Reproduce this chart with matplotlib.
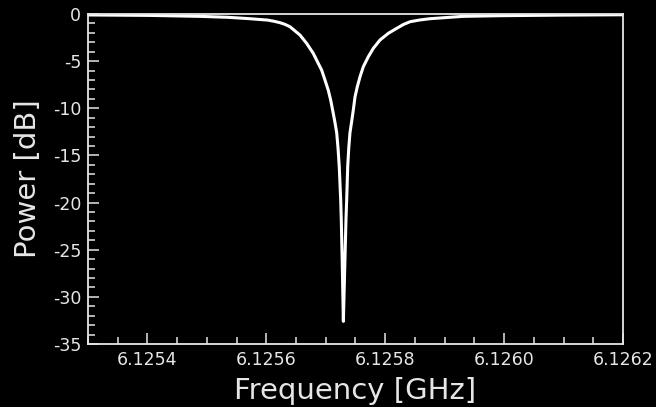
import matplotlib
matplotlib.use("Agg")
import matplotlib.pyplot as plt
from matplotlib.ticker import MultipleLocator, FormatStrFormatter

plt.rcParams['font.family'] = ['DejaVu Sans']
plt.rcParams['axes.unicode_minus'] = False

# Frequency [GHz] and power [dB]
freq_ghz = [
    6.1253000, 6.1254043, 6.1254884, 6.1255355, 6.1255725, 6.1256028,
    6.1256129, 6.1256230, 6.1256314, 6.1256398, 6.1256566, 6.1256679,
    6.1256790, 6.1256874, 6.1256931, 6.1256987, 6.1257042, 6.1257083,
    6.1257116, 6.1257152, 6.1257184, 6.1257206, 6.1257227, 6.1257251,
    6.1257261, 6.1257276, 6.1257296,
    6.1257323, 6.1257340, 6.1257352, 6.1257369, 6.1257387, 6.1257407,
    6.1257438, 6.1257463, 6.1257492, 6.1257530, 6.1257576, 6.1257631,
    6.1257715, 6.1257799, 6.1257912, 6.1258052, 6.1258193, 6.1258304,
    6.1258417, 6.1258585, 6.1258753, 6.1259308, 6.1259931, 6.1260940,
    6.1262000,
]
power_db = [
    -0.10, -0.15, -0.25, -0.35, -0.50, -0.65,
    -0.77, -0.92, -1.10, -1.35, -2.23, -3.12,
    -4.18, -5.24, -5.95, -7.01, -8.08, -9.14,
    -10.2, -11.4, -12.6, -14.2, -16.2, -19.7,
    -21.8, -26.0, -32.6,
    -26.0, -21.8, -19.7, -16.2, -14.2, -12.6,
    -11.3, -10.2, -8.79, -7.73, -6.66, -5.60,
    -4.54, -3.65, -2.76, -2.05, -1.52, -1.12,
    -0.82, -0.63, -0.50, -0.25, -0.18, -0.12,
    -0.08,
]

x_limits = (6.1253, 6.1262)
y_limits = (-35, 0)
x_major, x_minor = 0.0002, 0.00005
y_major, y_minor = 5, 1

fg = '#e6e6e6'

fig = plt.figure(figsize=(6.56, 4.07), dpi=100, facecolor='black')
ax = fig.add_axes([0.1341, 0.1548, 0.8156, 0.8108])
ax.set_facecolor('black')

ax.plot(freq_ghz, power_db, color='white', lw=2.2,
        solid_joinstyle='round', solid_capstyle='round', antialiased=True)

ax.set_xlim(*x_limits)
ax.set_ylim(*y_limits)

ax.xaxis.set_major_locator(MultipleLocator(x_major))
ax.xaxis.set_minor_locator(MultipleLocator(x_minor))
ax.yaxis.set_major_locator(MultipleLocator(y_major))
ax.yaxis.set_minor_locator(MultipleLocator(y_minor))
ax.xaxis.set_major_formatter(FormatStrFormatter('%.4f'))
ax.yaxis.set_major_formatter(FormatStrFormatter('%d'))

for s in ax.spines.values():
    s.set_color(fg)
    s.set_linewidth(1.3)

ax.tick_params(which='both', direction='in', colors=fg, top=False, right=False)
ax.tick_params(which='major', length=8, width=1.1, labelsize=12.5, pad=5)
ax.tick_params(which='minor', length=5, width=1.1)
for lbl in ax.get_xticklabels() + ax.get_yticklabels():
    lbl.set_color(fg)

ax.set_xlabel('Frequency [GHz]', fontsize=21, color=fg, labelpad=6)
ax.set_ylabel('Power [dB]', fontsize=21, color=fg, labelpad=8)

fig.savefig('out.png', dpi=100, facecolor='black')
